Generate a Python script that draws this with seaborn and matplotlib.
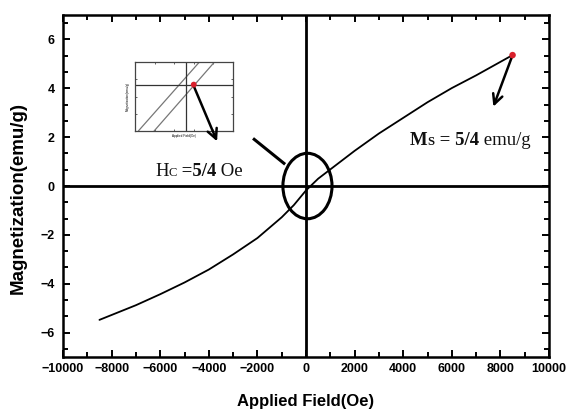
import numpy as np
import seaborn as sns
import matplotlib.pyplot as plt
from matplotlib.patches import Ellipse
from matplotlib.ticker import MultipleLocator

# M-H curve
field = [-8500, -7000, -6000, -5000, -4000, -3000, -2000, -1000, -500, 0,
         500, 1000, 2000, 3000, 4000, 5000, 6000, 7000, 8500]
magnet = [-5.48, -4.88, -4.43, -3.95, -3.42, -2.80, -2.13, -1.28, -0.78, -0.18,
          0.30, 0.68, 1.44, 2.15, 2.79, 3.43, 4.01, 4.53, 5.36]
ms_point = ([8500], [5.36])

x_ticks = [-10000, -8000, -6000, -4000, -2000, 0, 2000, 4000, 6000, 8000, 10000]
y_ticks = [-6, -4, -2, 0, 2, 4, 6]

# small inset (zoomed loop picture)
inset_y = [0, 1]
inset_x1 = [0.034, 0.658]
inset_x2 = [0.195, 0.812]
inset_dot = ([0.60], [0.672])

sns.set_style("ticks")
plt.rcParams['font.family'] = ['Liberation Sans', 'DejaVu Sans']
plt.rcParams['text.color'] = 'k'
plt.rcParams['axes.labelcolor'] = 'k'
serif = 'Liberation Serif'

fig = plt.figure(figsize=(5.66, 4.12), dpi=100)
ax = fig.add_axes([0.1113, 0.1335, 0.8587, 0.830])

ax.axhline(0, color='k', lw=2.0, zorder=1)
ax.axvline(0, color='k', lw=2.0, zorder=1)
sns.lineplot(x=field, y=magnet, ax=ax, color='k', lw=1.3, sort=False, zorder=3)
sns.scatterplot(x=ms_point[0], y=ms_point[1], ax=ax, color='#d8202c', s=22,
                edgecolor='none', zorder=5)

ax.set_xlim(-10000, 10000)
ax.set_ylim(-7, 7)
ax.set_xticks(x_ticks)
ax.set_yticks(y_ticks)
ax.xaxis.set_minor_locator(MultipleLocator(1000))
ax.yaxis.set_minor_locator(MultipleLocator(2 / 3))
for s in ax.spines.values():
    s.set_visible(True)
    s.set_linewidth(1.8)
    s.set_color('k')
ax.tick_params(which='both', direction='in', top=True, right=True, width=1.4,
               colors='k')
ax.tick_params(which='major', length=5)
ax.tick_params(which='minor', length=3.5)
ax.tick_params(axis='x', pad=4.5)
ax.tick_params(axis='y', pad=6)
for lab in ax.get_xticklabels() + ax.get_yticklabels():
    lab.set_fontweight('bold')
    lab.set_fontsize(9)

ax.set_xlabel('Applied Field(Oe)', fontsize=12, fontweight='bold', va='top',
              color='k')
ax.xaxis.set_label_coords(0.5, -0.108)
ax.set_ylabel('Magnetization(emu/g)', fontsize=13.5, fontweight='bold',
              color='k')
ax.yaxis.set_label_coords(-0.074, 0.465)

# circle around origin and pointer line
ax.add_patch(Ellipse((60, 0), 2020, 2.68, fill=False, lw=2.2, color='k', zorder=4))
ax.plot([-2180, -860], [1.95, 0.89], color='k', lw=2.2, solid_capstyle='butt')

# Ms arrow
ax.annotate('', xy=(7710, 3.25), xytext=(8500, 5.36),
            arrowprops=dict(arrowstyle='->,head_length=0.7,head_width=0.35',
                            color='k', lw=1.8, shrinkA=0, shrinkB=0))

def label(x, y, parts):
    prev = None
    for txt, size, weight, dy in parts:
        if prev is None:
            prev = ax.text(x, y, txt, fontsize=size, fontweight=weight,
                           family=serif, va='baseline', ha='left', color='#111')
        else:
            prev = ax.annotate(txt, xy=(1, 0), xycoords=prev, xytext=(0, dy),
                               textcoords='offset points', fontsize=size,
                               fontweight=weight, family=serif, va='bottom',
                               ha='left', color='#111')

label(-6210, 0.41, [('H', 13.5, 'normal', 0), ('C', 9, 'normal', 0.9),
                    (' =5/4', 13.5, 'bold', -0.9), (' Oe', 13.5, 'normal', 0)])
label(4280, 1.67, [('M', 13.5, 'bold', 0), ('S', 9, 'bold', 0.9),
                   (' = 5/4', 13.5, 'bold', -0.9), (' emu/g', 13.5, 'normal', 0)])

# inset picture
axi = fig.add_axes([0.2385, 0.682, 0.173, 0.1675])
sns.lineplot(x=inset_x1, y=inset_y, ax=axi, color='#777777', lw=0.9)
sns.lineplot(x=inset_x2, y=inset_y, ax=axi, color='#777777', lw=0.9)
axi.axvline(0.52, color='#333333', lw=0.9)
axi.axhline(0.667, color='#333333', lw=0.9)
sns.scatterplot(x=inset_dot[0], y=inset_dot[1], ax=axi, color='#d8202c', s=18,
                edgecolor='none', zorder=5)
axi.set_xlim(0, 1)
axi.set_ylim(0, 1)
axi.set_xticks([0.2, 0.4, 0.6, 0.8])
axi.set_yticks([0.25, 0.5, 0.75])
axi.tick_params(direction='in', length=1.5, width=0.5, top=True, right=True,
                labelbottom=False, labelleft=False)
for s in axi.spines.values():
    s.set_linewidth(0.9)
    s.set_color('#444444')
axi.set_xlabel('Applied Field(Oe)', fontsize=2.2, labelpad=2)
axi.set_ylabel('Magnetization(emu/g)', fontsize=2.2, labelpad=4)
axi.annotate('', xy=(-3660, 1.83), xycoords=ax.transData,
             xytext=(-4610, 4.07), textcoords=ax.transData,
             arrowprops=dict(arrowstyle='->,head_length=0.7,head_width=0.35',
                             color='k', lw=1.8, shrinkA=0, shrinkB=0))

fig.savefig('out.png', dpi=100, facecolor='white')
